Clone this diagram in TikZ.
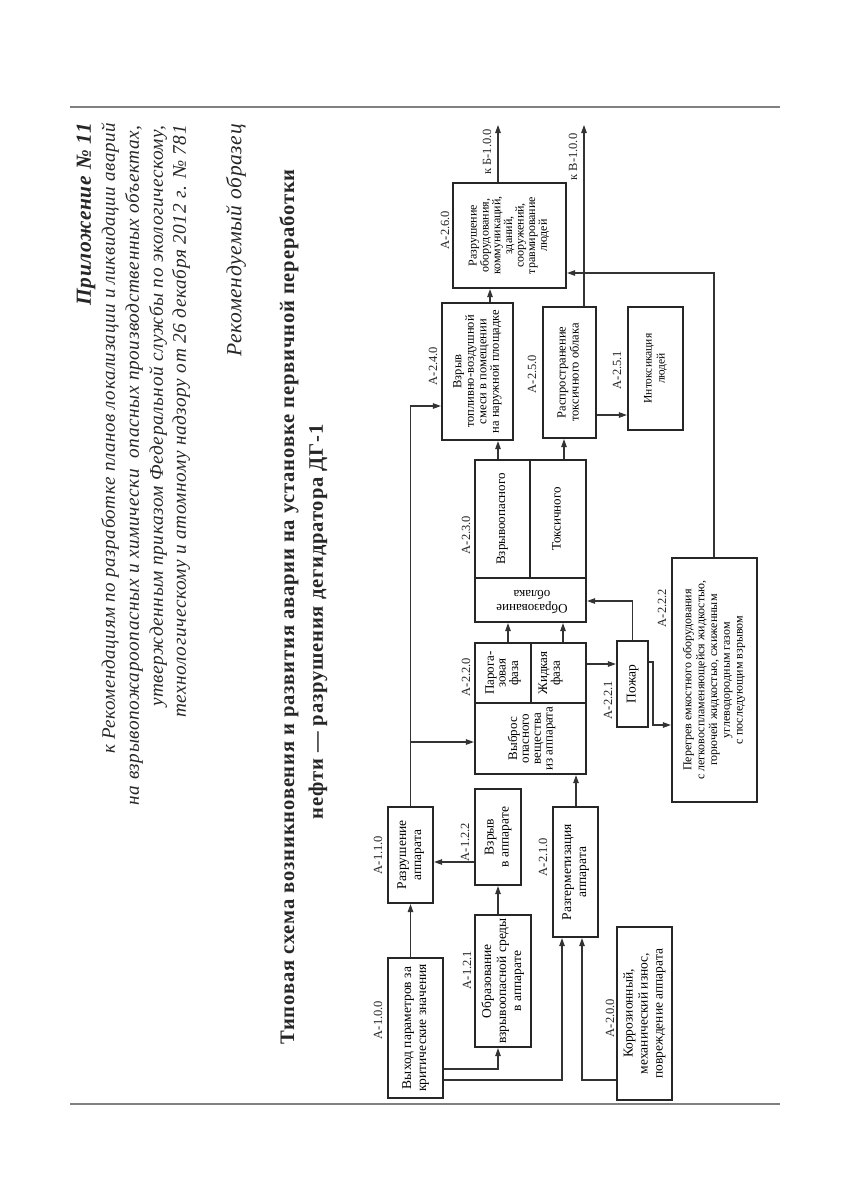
\documentclass[tikz,border=0pt]{standalone}
\usepackage{graphicx}
\usepackage{fontspec}
\setmainfont{Liberation Serif}
\newfontfamily\titlefont[LetterSpace=4]{Liberation Serif}
\newfontfamily\hdrfont[LetterSpace=3]{Liberation Serif}
\usetikzlibrary{arrows.meta}
\newcommand{\rt}[3]{\rotatebox{90}{\fontsize{#1}{#2}\selectfont\begin{tabular}{@{}c@{}}#3\end{tabular}}}
\newcommand{\rtd}[3]{\rotatebox{180}{\fontsize{#1}{#2}\selectfont\begin{tabular}{@{}c@{}}#3\end{tabular}}}
\begin{document}
\begin{tikzpicture}[x=1pt,y=-1pt,
 box/.style={draw=black!85, line width=2.2pt, inner sep=0pt, fill=white, align=center},
 cell/.style={inner sep=0pt, align=center},
 lab/.style={rotate=90, inner sep=0pt, font=\fontsize{12.5}{13}\selectfont, text=black!85},
 arr/.style={draw=black!80, line width=1.1pt, -{Triangle[length=8pt,width=5.5pt]}},
 cellline/.style={draw=black!85, line width=2pt},
 rule/.style={draw=black!50, line width=1.6pt},
 hdr/.style={rotate=90, inner sep=0pt, text=black!85}]
\fill[white] (0,0) rectangle (856,1179);
\useasboundingbox (0,0) rectangle (856,1179);
% rules
\draw[rule] (70,107) -- (780,107);
\draw[rule] (70,1104) -- (780,1104);
% header
\node[hdr, anchor=east] (h1) at (86,123) {\hdrfont\fontsize{21.5}{21.5}\selectfont\bfseries\itshape Приложение № 11};
\node[hdr, anchor=east] (h2) at (110,123) {\hdrfont\fontsize{19}{19}\selectfont\itshape к Рекомендациям по разработке планов локализации и ликвидации аварий};
\node[hdr, anchor=east] (h3) at (134,125) {\hdrfont\fontsize{19.3}{19}\selectfont\itshape на взрывопожароопасных и химически\ \ опасных производственных объектах,};
\node[hdr, anchor=east] (h4) at (158,125) {\hdrfont\fontsize{19.3}{19}\selectfont\itshape утвержденным приказом Федеральной службы по экологическому,};
\node[hdr, anchor=east] (h5) at (181,125) {\hdrfont\fontsize{19.3}{19}\selectfont\itshape технологическому и атомному надзору от 26 декабря 2012 г. № 781};
\node[hdr, anchor=east] (h6) at (236,124) {\hdrfont\fontsize{21.5}{21}\selectfont\itshape Рекомендуемый образец};
% title
\node[hdr] (t1) at (289,607) {\titlefont\fontsize{20.6}{20}\selectfont\bfseries Типовая схема возникновения и развития аварии на установке первичной переработки};
\node[hdr] (t2) at (318,622) {\titlefont\fontsize{20.6}{20}\selectfont\bfseries нефти — разрушения дегидратора ДГ-1};
% boxes
\node[box, minimum width=55, minimum height=140] (a100) at (415.5,1028) {\rt{13.5}{15}{Выход параметров за\\критические значения}};
\node[box, minimum width=45, minimum height=96] (a110) at (410.5,855) {\rt{13.5}{15}{Разрушение\\аппарата}};
\node[box, minimum width=56, minimum height=132] (a121) at (503,981) {\rt{13.5}{15}{Образование\\взрывоопасной среды\\в аппарате}};
\node[box, minimum width=46, minimum height=96] (a122) at (498,837) {\rt{13.5}{15}{Взрыв\\в аппарате}};
\node[box, minimum width=45, minimum height=130] (a210) at (575.5,872) {\rt{13.5}{15}{Разгерметизация\\аппарата}};
\node[box, minimum width=55, minimum height=173] (a200) at (644.5,1013.5) {\rt{13.5}{15}{Коррозионный,\\механический износ,\\повреждение аппарата}};
\node[box, minimum width=111, minimum height=131] (a220) at (530.5,708.5) {};
\node[box, minimum width=111, minimum height=162] (a230) at (530.5,541) {};
\node[box, minimum width=71, minimum height=137] (a240) at (477.5,371.5) {\rt{12.5}{12.5}{Взрыв\\топливно-воздушной\\смеси в помещении\\на наружной площадке}};
\node[box, minimum width=53, minimum height=131] (a250) at (569.5,372.5) {\rt{12.5}{13}{Распространение\\токсичного облака}};
\node[box, minimum width=55, minimum height=123] (a251) at (655.5,368.5) {\rt{11.5}{13}{Интоксикация\\людей}};
\node[box, minimum width=113, minimum height=105] (a260) at (509.5,235.5) {\rt{12}{11.5}{Разрушение\\оборудования,\\коммуникаций,\\зданий,\\сооружений,\\травмирование\\людей}};
\node[box, minimum width=31, minimum height=86] (a221) at (632.5,684) {\rt{13.5}{15}{Пожар}};
\node[box, minimum width=85, minimum height=244] (a222) at (714.5,680) {\rt{12}{12.8}{Перегрев емкостного оборудования\\с легковоспламеняющейся жидкостью,\\горючей жидкостью, сжиженным\\углеводородным газом\\с последующим взрывом}};
% cells of A-2.2.0
\draw[cellline] (a220.west |- 0,703) -- (a220.east |- 0,703);
\draw[cellline] (a220.north -| 531,0) -- (531,703);
\node[cell] (c220a) at (532,738.5) {\rt{13}{11.8}{Выброс\\опасного\\вещества\\из аппарата}};
\node[cell] (c220b) at (503.5,673) {\rt{13}{11.8}{Парога-\\зовая\\фаза}};
\node[cell] (c220c) at (551,673) {\rt{13}{12.5}{Жидкая\\фаза}};
% cells of A-2.3.0
\draw[cellline] (a230.west |- 0,578) -- (a230.east |- 0,578);
\draw[cellline] (a230.north -| 530,0) -- (530,578);
\node[cell] (c230a) at (502.5,519) {\rt{13}{13}{Взрывоопасного}};
\node[cell] (c230b) at (558,519) {\rt{13}{13}{Токсичного}};
\node[cell] (c230c) at (532,600) {\rtd{13}{14}{Образование\\облака}};
% labels
\node[lab] (l100) at (378,1020) {А-1.0.0};
\node[lab] (l110) at (378,855) {А-1.1.0};
\node[lab] (l121) at (467,970) {А-1.2.1};
\node[lab] (l122) at (465,842) {А-1.2.2};
\node[lab] (l210) at (543,857) {А-2.1.0};
\node[lab] (l200) at (610,1018) {А-2.0.0};
\node[lab] (l220) at (466,677) {А-2.2.0};
\node[lab] (l221) at (608,700) {А-2.2.1};
\node[lab] (l222) at (662,608) {А-2.2.2};
\node[lab] (l230) at (466,535) {А-2.3.0};
\node[lab] (l240) at (433,366) {А-2.4.0};
\node[lab] (l250) at (532,374) {А-2.5.0};
\node[lab] (l251) at (617,370) {А-2.5.1};
\node[lab] (l260) at (445,230) {А-2.6.0};
% outputs
\coordinate (outB) at (498,125);
\coordinate (outV) at (584,125);
\node[lab] (lB) at (487,152) {к Б-1.0.0};
\node[lab] (lV) at (573,157) {к В-1.0.0};
% connectors
\draw[arr] (a110.south |- a100.north) -- (a110.south);
\draw[arr] (a122.south |- a121.north) -- (a122.south);
\draw[arr] (a122.west |- 0,862) -- (a110.east |- 0,862);
\draw[arr] (a100.east |- 0,1069) -| (a121.south -| a122.south);
\draw[arr] (a100.east |- 0,1080) -| (a210.south -| 562,0);
\draw[arr] (a200.west |- 0,1080) -| (a210.south -| 582,0);
\draw[arr] (a110.north) |- (a240.west |- 0,406);
\draw[arr] (a110.north |- 0,742) -- (a220.west |- 0,742);
\draw[arr] (a210.north -| 576,0) -- (a220.south -| 576,0);
\draw[arr] (a220.north -| 508,0) -- (a230.south -| 508,0);
\draw[arr] (a220.north -| 563,0) -- (a230.south -| 563,0);
\draw[arr] (a220.east |- 0,664) -- (a221.west |- 0,664);
\draw[arr] (a221.north) |- (a230.east |- 0,601);
\draw[arr] (a221.east |- 0,662) -| (653,725) -- (a222.west |- 0,725);
\draw[arr] (a230.north -| 498,0) -- (a240.south -| 498,0);
\draw[arr] (a230.north -| 564,0) -- (a250.south -| 564,0);
\draw[arr] (a250.east |- 0,415) -- (a251.west |- 0,415);
\draw[arr] (a240.north -| 490,0) -- (a260.south -| 490,0);
\draw[arr] (a260.north -| outB) -- (outB);
\draw[arr] (a250.north -| outV) -- (outV);
\draw[arr] (a222.north -| 714,0) |- (a260.east |- 0,273);
\end{tikzpicture}
\end{document}
